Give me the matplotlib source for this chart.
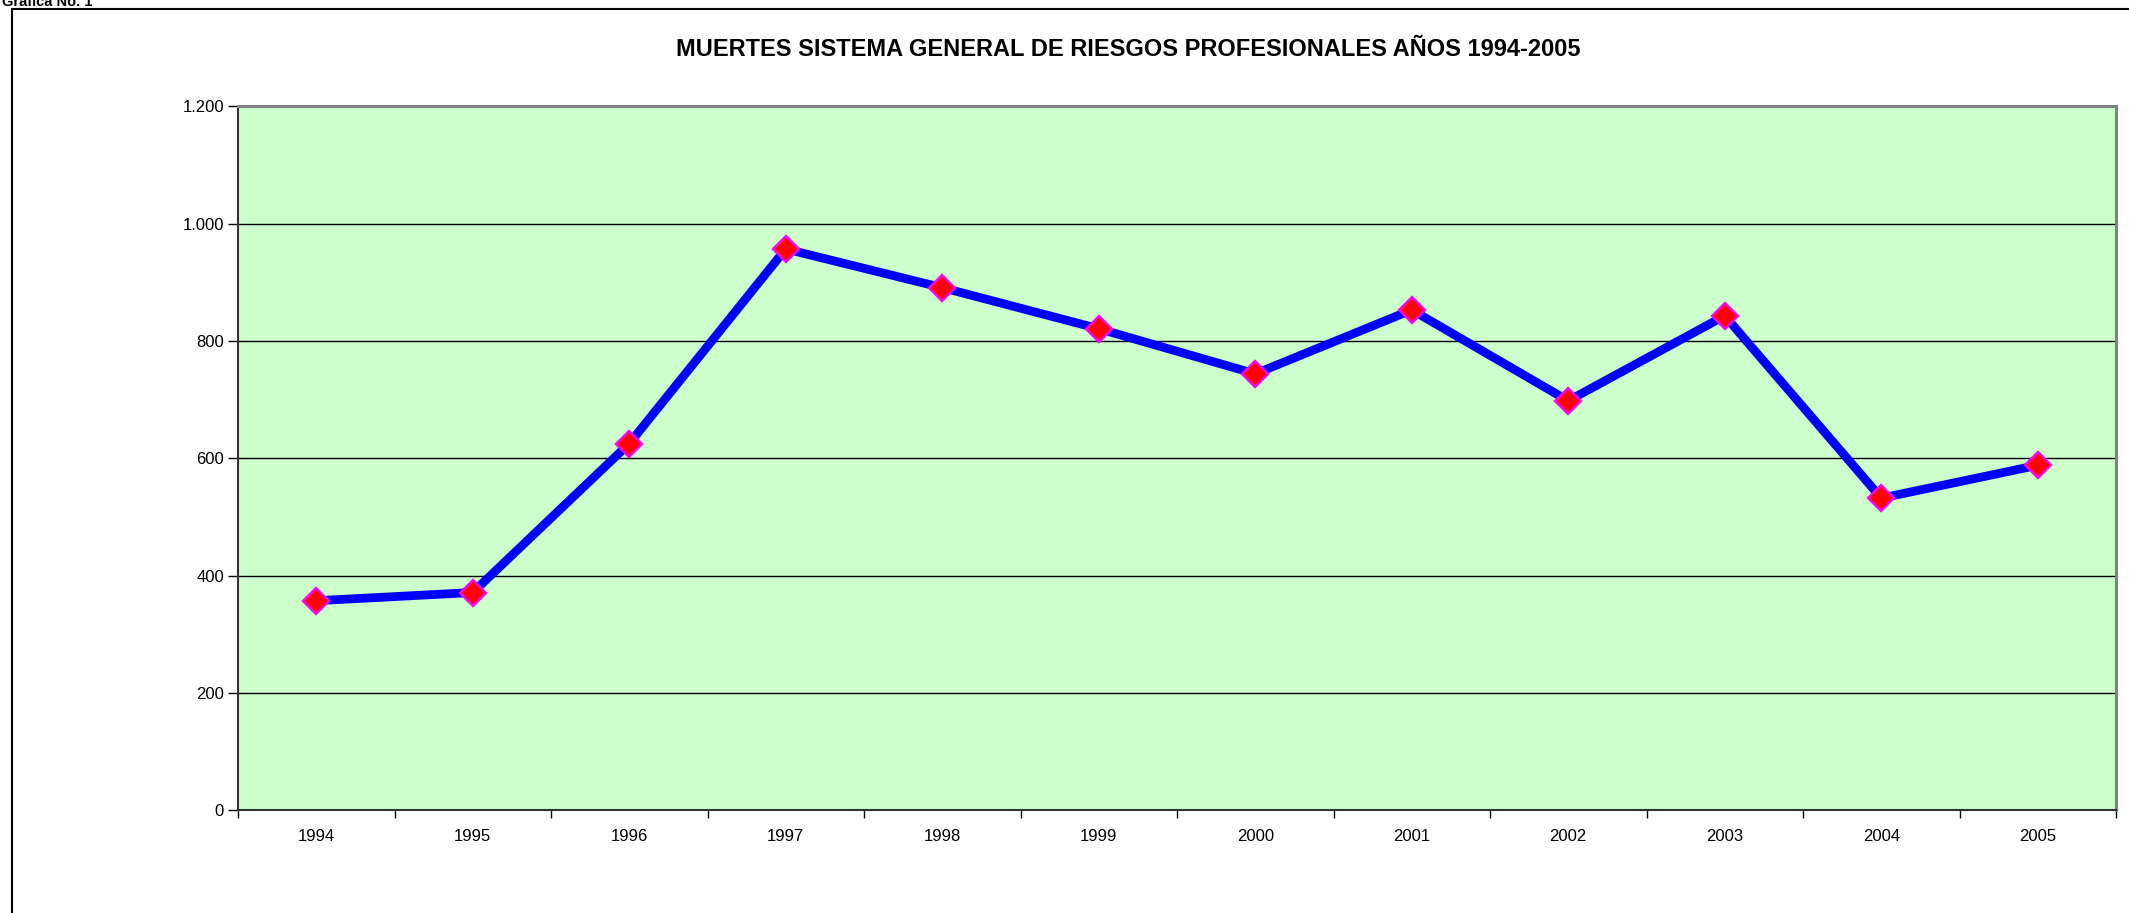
import matplotlib
matplotlib.use("Agg")
import matplotlib.pyplot as plt
from matplotlib.patches import Rectangle
from matplotlib.ticker import FixedLocator, NullFormatter

plt.rcParams['font.family'] = ['Liberation Sans', 'DejaVu Sans']

years = ['1994', '1995', '1996', '1997', '1998', '1999', '2000', '2001', '2002', '2003', '2004', '2005']
deaths = [357, 371, 625, 957, 891, 821, 744, 853, 698, 843, 532, 588]
y_ticks = [0, 200, 400, 600, 800, 1000, 1200]
y_tick_labels = ['0', '200', '400', '600', '800', '1.000', '1.200']
title = 'MUERTES SISTEMA GENERAL DE RIESGOS PROFESIONALES AÑOS 1994-2005'
caption = 'Grafica No. 1'

W, H, DPI = 2129, 913, 100
fig = plt.figure(figsize=(W / DPI, H / DPI), dpi=DPI)
fig.patch.set_facecolor('white')

# outer chart frame (extends past right and bottom edges)
frame = Rectangle((12 / W, -0.05), 1.2, (H - 9) / H + 0.05, transform=fig.transFigure,
                  fill=False, edgecolor='black', linewidth=1.5, clip_on=False)
fig.add_artist(frame)

fig.text(2 / W, 1 - 6 / H, caption, fontsize=10.5, fontweight='bold', ha='left', va='baseline')

ax = fig.add_axes([238 / W, 1 - 810 / H, (2116 - 238) / W, (810 - 106.5) / H])
ax.set_facecolor('#CCFFCC')

x = list(range(len(years)))
ax.plot(x, deaths, color='#0000FF', linewidth=6.3, solid_joinstyle='miter', zorder=3,
        marker='D', markersize=13, markerfacecolor='#FF0000', markeredgecolor='#FF00FF',
        markeredgewidth=1.7)

ax.set_xlim(-0.5, len(years) - 0.5)
ax.set_ylim(0, 1200)

ax.set_yticks(y_ticks)
ax.set_yticklabels(y_tick_labels, fontsize=12)
for yv in y_ticks[1:-1]:
    ax.axhline(yv, color='black', linewidth=1.0, zorder=1)

ax.set_xticks(x)
ax.set_xticklabels(years, fontsize=12)
ax.tick_params(axis='x', which='major', length=0, pad=14)
ax.xaxis.set_minor_locator(FixedLocator([i - 0.5 for i in range(len(years) + 1)]))
ax.xaxis.set_minor_formatter(NullFormatter())
ax.tick_params(axis='x', which='minor', length=6, width=1, direction='out', color='black')
ax.tick_params(axis='y', length=7, width=1, direction='out', color='black', pad=3)

for s in ['top', 'right']:
    ax.spines[s].set_color('#808080')
    ax.spines[s].set_linewidth(2.2)
for s in ['left', 'bottom']:
    ax.spines[s].set_color('#333333')
    ax.spines[s].set_linewidth(1.5)

fig.text(1128 / W, 1 - 50 / H, title, fontsize=17, fontweight='bold', ha='center', va='center')

fig.savefig('out.png', dpi=DPI, facecolor='white')
